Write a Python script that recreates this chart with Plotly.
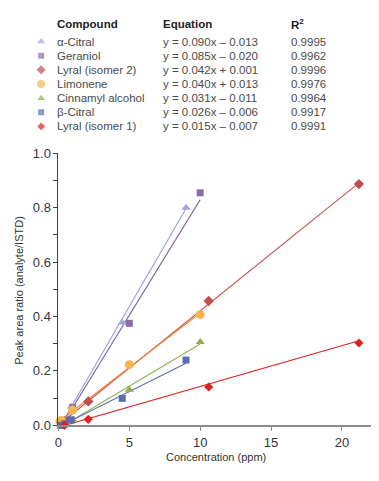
import plotly.graph_objects as go

W, H = 379, 481
OFF = 8  # default page body margin
FW, FH = W - 2 * OFF, H - 2 * OFF

compounds = ["α-Citral", "Geraniol", "Lyral (isomer 2)", "Limonene",
             "Cinnamyl alcohol", "β-Citral", "Lyral (isomer 1)"]
equations = ["y = 0.090x – 0.013", "y = 0.085x – 0.020", "y = 0.042x + 0.001",
             "y = 0.040x + 0.013", "y = 0.031x – 0.011", "y = 0.026x – 0.006",
             "y = 0.015x – 0.007"]
r2_values = ["0.9995", "0.9962", "0.9996", "0.9976", "0.9964", "0.9917", "0.9991"]
slopes = [0.090, 0.085, 0.042, 0.040, 0.031, 0.026, 0.015]
intercepts = [-0.013, -0.020, 0.001, 0.013, -0.011, -0.006, -0.007]

x_alpha_citral = [0.18, 0.45, 0.9, 4.5, 9.0]
y_alpha_citral = [0.003, 0.02, 0.068, 0.378, 0.80]
x_geraniol = [0.2, 0.5, 1.0, 5.0, 10.0]
y_geraniol = [0.0, 0.018, 0.065, 0.375, 0.855]
x_lyral2 = [0.42, 2.1, 10.6, 21.2]
y_lyral2 = [0.014, 0.088, 0.457, 0.887]
x_limonene = [0.1, 0.2, 1.0, 5.0, 10.0]
y_limonene = [0.015, 0.018, 0.056, 0.223, 0.407]
x_cinnamyl = [0.2, 0.5, 1.0, 5.0, 10.0]
y_cinnamyl = [0.0, 0.005, 0.021, 0.131, 0.306]
x_beta_citral = [0.18, 0.45, 0.9, 4.5, 9.0]
y_beta_citral = [0.0, 0.006, 0.02, 0.099, 0.240]
x_lyral1 = [0.42, 2.1, 10.6, 21.2]
y_lyral1 = [0.0, 0.022, 0.141, 0.303]

xs = [x_alpha_citral, x_geraniol, x_lyral2, x_limonene, x_cinnamyl, x_beta_citral, x_lyral1]
ys = [y_alpha_citral, y_geraniol, y_lyral2, y_limonene, y_cinnamyl, y_beta_citral, y_lyral1]

marker_colors = ["#9ea6dc", "#8a6ea8", "#c0504d", "#f5b553", "#8db150", "#5b6db3", "#e0201e"]
line_colors = ["#9c9ad8", "#8064a2", "#c0504d", "#ef8a3a", "#8db150", "#5b6db3", "#e0201e"]
symbols = ["triangle-up", "square", "diamond", "circle", "triangle-up", "square", "diamond"]
sizes = [8, 7, 8, 9, 8, 7, 7]

# pixel layout (reference window coordinates)
px_left, px_right = 55, W - OFF
px_y0, px_y1 = 432, 151
px_per_unit = 14.33
xmax = (px_right - px_left) / px_per_unit


def px_x(p):
    return (p - OFF) / FW


def px_y(p):
    return 1 - (p - OFF) / FH


fig = go.Figure()

for i in range(len(compounds)):
    x0, x1 = min(xs[i]), max(xs[i])
    fig.add_trace(go.Scatter(
        x=[x0, x1], y=[slopes[i] * x0 + intercepts[i], slopes[i] * x1 + intercepts[i]],
        mode="lines", line=dict(color=line_colors[i], width=1.1),
        showlegend=False, hoverinfo="skip"))
for i in range(len(compounds)):
    fig.add_trace(go.Scatter(
        x=xs[i], y=ys[i], mode="markers", name=compounds[i],
        marker=dict(symbol=symbols[i], color=marker_colors[i], size=sizes[i], line=dict(width=0)),
        cliponaxis=False, showlegend=False))

# Table-style legend markers on a pixel-scaled overlay axis
row0, row_step = 35.5, 14.6
legend_y = [row0 + i * row_step for i in range(len(compounds))]
fig.add_trace(go.Scatter(
    x=[37.5] * len(compounds), y=legend_y, xaxis="x2", yaxis="y2",
    mode="markers", cliponaxis=False, showlegend=False, hoverinfo="skip",
    marker=dict(symbol=symbols, color=marker_colors, size=[s - 1 for s in sizes], line=dict(width=0))))

txt_font = dict(family="Liberation Sans, Arial, sans-serif", size=11.5, color="#4a4a4a")
hdr_font = dict(family="Liberation Sans, Arial, sans-serif", size=11.5, color="#222222")

annotations = []
for xpos, label in [(51, "<b>Compound</b>"), (159, "<b>Equation</b>"), (288, "<b>R<sup>2</sup></b>")]:
    annotations.append(dict(x=px_x(xpos), y=px_y(17), xref="paper", yref="paper",
                            text=label, showarrow=False, xanchor="left", yanchor="middle", font=hdr_font))
for i in range(len(compounds)):
    yy = px_y(legend_y[i])
    for xpos, label in [(51, compounds[i]), (159, equations[i]), (288, r2_values[i])]:
        annotations.append(dict(x=px_x(xpos), y=yy, xref="paper", yref="paper", text=label,
                                showarrow=False, xanchor="left", yanchor="middle", font=txt_font))

axis_title_font = dict(family="Liberation Sans, Arial, sans-serif", size=11, color="#333333")
annotations.append(dict(x=px_x(214), y=px_y(465), xref="paper", yref="paper",
                        text="Concentration (ppm)", showarrow=False, xanchor="center", yanchor="middle",
                        font=axis_title_font))
annotations.append(dict(x=px_x(15), y=px_y(292), xref="paper", yref="paper",
                        text="Peak area ratio (analyte/ISTD)", showarrow=False, textangle=-90,
                        xanchor="center", yanchor="middle", font=axis_title_font))

tick_font = dict(family="Liberation Sans, Arial, sans-serif", size=13, color="#333344")

fig.update_layout(
    width=FW, height=FH,
    margin=dict(l=0, r=0, t=0, b=0),
    paper_bgcolor="white", plot_bgcolor="rgba(0,0,0,0)",
    showlegend=False,
    annotations=annotations,
    xaxis=dict(domain=[px_x(px_left), px_x(px_right)], range=[0, xmax],
               showgrid=False, zeroline=False, showline=True, linecolor="#8c8c8c", linewidth=2,
               ticks="outside", ticklen=4, tickcolor="#8c8c8c", tickwidth=1,
               tickvals=[0, 5, 10, 15, 20], tickfont=tick_font, anchor="y"),
    yaxis=dict(domain=[px_y(px_y0), px_y(px_y1)], range=[0, 1.0],
               showgrid=False, zeroline=False, showline=True, linecolor="#444444", linewidth=1,
               ticks="outside", ticklen=4, tickcolor="#444444", tickwidth=1,
               dtick=0.2, tick0=0, tickformat=".1f", tickfont=tick_font,
               minor=dict(dtick=0.1, ticks="outside", ticklen=4, tickcolor="#444444"),
               anchor="x"),
    xaxis2=dict(domain=[0, 1], range=[OFF, W - OFF], visible=False, anchor="y2"),
    yaxis2=dict(domain=[0, 1], range=[H - OFF, OFF], visible=False, anchor="x2"),
)

fig.write_html("out.html")
